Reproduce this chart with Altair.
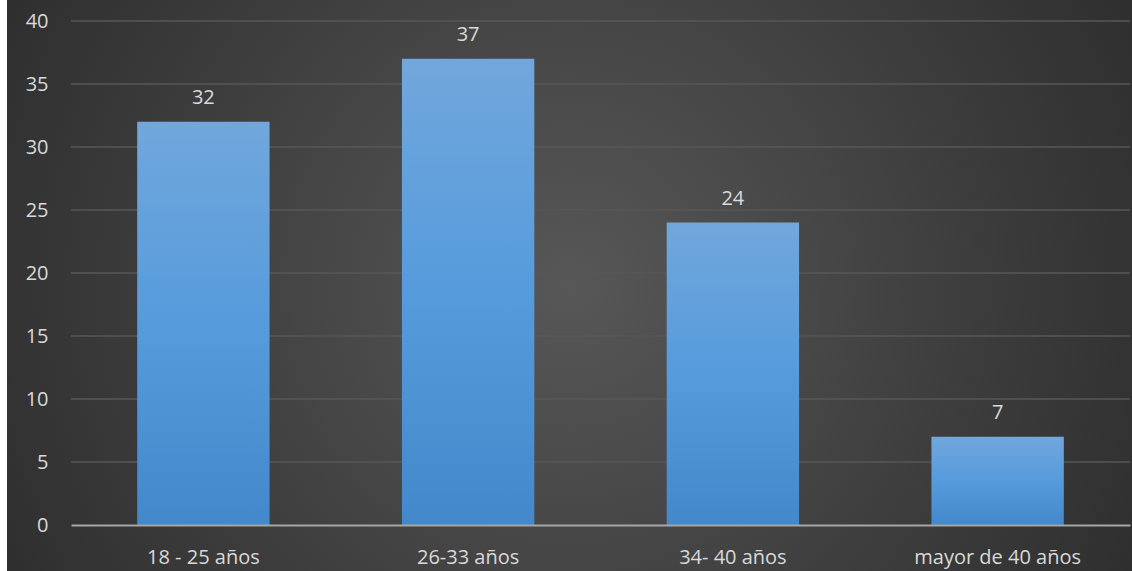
import altair as alt
import pandas as pd

# Age groups and respondent counts
categories = ["18 - 25 años", "26-33 años", "34- 40 años", "mayor de 40 años"]
counts = [32, 37, 24, 7]
y_ticks = [0, 5, 10, 15, 20, 25, 30, 35, 40]

df = pd.DataFrame({"grupo": categories, "n": counts})
grid_df = pd.DataFrame({"v": y_ticks})

W, H = 1059, 504
FONT = "Open Sans"
TEXT = "#d9d9d9"

y_scale = alt.Scale(domain=[0, 40], nice=False)
y_axis = alt.Axis(
    title=None, values=y_ticks, ticks=False, domain=False, grid=False,
    labelColor=TEXT, labelFont=FONT, labelFontSize=20,
    labelPadding=23, labelBaseline="middle", zindex=1,
)

x_enc = alt.X(
    "grupo:N",
    sort=categories,
    scale=alt.Scale(paddingInner=0.5, paddingOuter=0.25),
    axis=alt.Axis(
        title=None, labelAngle=0, ticks=False, domain=True,
        domainColor="#a6a6a6", domainWidth=2, labelColor=TEXT,
        labelFont=FONT, labelFontSize=20, labelPadding=32,
        labelBaseline="middle", zindex=1, grid=False,
    ),
)

# Dark radial backdrop covering the whole canvas (except the thin white left strip)
backdrop = alt.Chart(alt.Data(values=[{}])).mark_rect(
    fill=alt.Gradient(
        gradient="radial",
        stops=[
            alt.GradientStop(color="#575757", offset=0),
            alt.GradientStop(color="#3a3a3a", offset=0.55),
            alt.GradientStop(color="#242424", offset=1),
        ],
        x1=0.5, y1=0.5, r1=0, x2=0.5, y2=0.5, r2=0.72,
    )
).encode(
    x=alt.value(-64), x2=alt.value(W + 2),
    y=alt.value(-21), y2=alt.value(H + 46),
)

grid = alt.Chart(grid_df).transform_filter("datum.v > 0").mark_rule(
    color="#575757", strokeWidth=1.5
).encode(y=alt.Y("v:Q", scale=y_scale, axis=y_axis))

bars = alt.Chart(df).mark_bar(
    fill=alt.Gradient(
        gradient="linear",
        stops=[
            alt.GradientStop(color="#71a7dc", offset=0),
            alt.GradientStop(color="#569bdc", offset=0.5),
            alt.GradientStop(color="#4388ca", offset=1),
        ],
        x1=0, y1=0, x2=0, y2=1,
    ),
).encode(
    x=x_enc,
    y=alt.Y("n:Q", scale=y_scale, axis=y_axis),
)

labels = alt.Chart(df).mark_text(
    font=FONT, fontSize=20, color=TEXT, baseline="alphabetic", dy=-18
).encode(
    x=alt.X("grupo:N", sort=categories),
    y=alt.Y("n:Q", scale=y_scale),
    text=alt.Text("n:Q"),
)

chart = (
    alt.layer(backdrop, grid, bars, labels)
    .properties(
        width=W, height=H,
        padding={"left": 71, "top": 21, "right": 2, "bottom": 46},
        autosize=alt.AutoSizeParams(type="none"),
        background="white",
    )
    .configure_view(stroke=None)
)

chart.save("out.html", embed_options={"renderer": "svg", "actions": False})
